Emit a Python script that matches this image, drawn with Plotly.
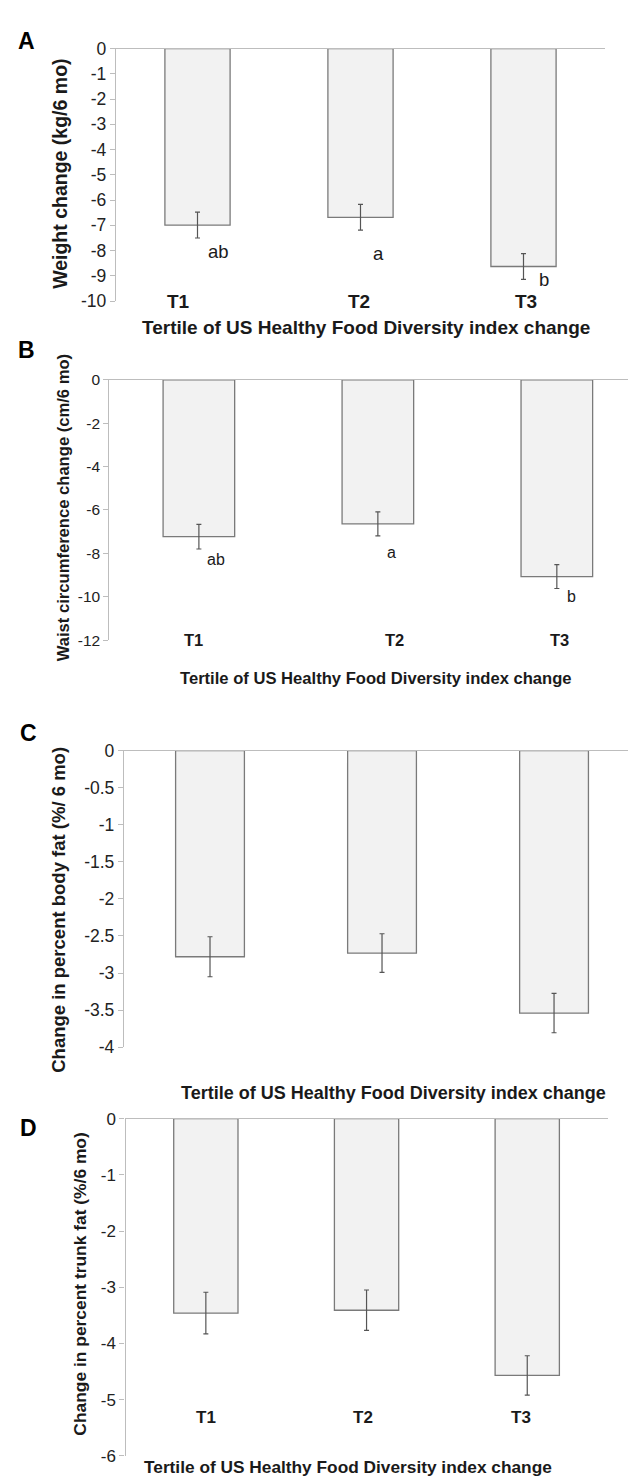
import plotly.graph_objects as go

W, H = 636, 1479
FONT = "Liberation Sans, Arial, sans-serif"

categories = ["T1", "T2", "T3"]
x_title = "Tertile of US Healthy Food Diversity index change"

# Panel A: weight change
weight_vals = [-6.99, -6.68, -8.63]
weight_err = [0.51, 0.51, 0.51]
weight_letters = ["ab", "a", "b"]
weight_letter_y = [-8.05, -8.12, -9.14]
weight_ticks = [0, -1, -2, -3, -4, -5, -6, -7, -8, -9, -10]
weight_ticktext = ["0", "-1", "-2", "-3", "-4", "-5", "-6", "-7", "-8", "-9", "-10"]

# Panel B: waist circumference change
waist_vals = [-7.23, -6.64, -9.07]
waist_err = [0.57, 0.55, 0.55]
waist_letters = ["ab", "a", "b"]
waist_letter_y = [-8.29, -7.97, -10.0]
waist_ticks = [0, -2, -4, -6, -8, -10, -12]
waist_ticktext = ["0", "-2", "-4", "-6", "-8", "-10", "-12"]

# Panel C: percent body fat change
bodyfat_vals = [-2.78, -2.73, -3.54]
bodyfat_err = [0.27, 0.26, 0.265]
bodyfat_ticks = [0, -0.5, -1, -1.5, -2, -2.5, -3, -3.5, -4]
bodyfat_ticktext = ["0", "-0.5", "-1", "-1.5", "-2", "-2.5", "-3", "-3.5", "-4"]

# Panel D: percent trunk fat change
trunk_vals = [-3.46, -3.41, -4.57]
trunk_err = [0.37, 0.36, 0.35]
trunk_ticks = [0, -1, -2, -3, -4, -5, -6]
trunk_ticktext = ["0", "-1", "-2", "-3", "-4", "-5", "-6"]

panels = [
    dict(letter="A", vals=weight_vals, err=weight_err, ticks=weight_ticks, ticktext=weight_ticktext,
         ymin=-10, ytitle="Weight change (kg/6 mo)", letters=weight_letters, letter_y=weight_letter_y,
         letter_dx=[21, 18, 20], px_x=(108, 597), px_y=(31, 287), xmax=2.5,
         tick_size=17.5, cat_size=19, cat_y=-10, cat_dx=[-19, -2, 2], let_size=18.5,
         xt=(358, 314, 19), yt=(52, 158, 19.5), lab=(18, 23)),
    dict(letter="B", vals=waist_vals, err=waist_err, ticks=waist_ticks, ticktext=waist_ticktext,
         ymin=-12, ytitle="Waist circumference change (cm/6 mo)", letters=waist_letters, letter_y=waist_letter_y,
         letter_dx=[17, 14, 15], px_x=(101.4, 636), px_y=(366.7, 630.7), xmax=2.487,
         tick_size=15.5, cat_size=16.5, cat_y=-12, cat_dx=[-5, 17, 3], let_size=16,
         xt=(368, 670, 16.6), yt=(55, 497, 16.6), lab=(18, 337)),
    dict(letter="C", vals=bodyfat_vals, err=bodyfat_err, ticks=bodyfat_ticks, ticktext=bodyfat_ticktext,
         ymin=-4, ytitle="Change in percent body fat (%/ 6 mo)", letters=None, letter_y=None,
         letter_dx=None, px_x=(116, 636), px_y=(742.7, 1043.3), xmax=2.523,
         tick_size=17.5, cat_size=17, cat_y=-4.02, cat_dx=[-15, -2, 2], let_size=16,
         xt=(385, 1090, 18), yt=(51, 904, 18.5), lab=(20, 725)),
    dict(letter="D", vals=trunk_vals, err=trunk_err, ticks=trunk_ticks, ticktext=trunk_ticktext,
         ymin=-6, ytitle="Change in percent trunk fat (%/6 mo)", letters=None, letter_y=None,
         letter_dx=None, px_x=(117.5, 599.6), px_y=(1115.7, 1457.5), xmax=2.5,
         tick_size=17, cat_size=17, cat_y=-5.31, cat_dx=[0, -4, -6], let_size=16,
         xt=(340, 1469, 17.3), yt=(72, 1284, 17.4), lab=(20, 1125)),
]

fig = go.Figure()
annotations = []
layout_axes = {}

AXIS_GREY = "#bdbdbd"
TEXT = "#1a1a1a"

for i, p in enumerate(panels):
    n = "" if i == 0 else str(i + 1)
    xa, ya = "x" + n, "y" + n
    fig.add_trace(go.Bar(
        x=categories, y=p["vals"], xaxis=xa, yaxis=ya, width=0.4,
        marker=dict(color="#f2f2f2", line=dict(color="#7a7a7a", width=1.3)),
        error_y=dict(type="data", array=p["err"], visible=True, color="#555555",
                     thickness=1.2, width=2.5),
        showlegend=False, hoverinfo="x+y",
    ))
    x0, x1 = p["px_x"]
    yt_, yb_ = p["px_y"]
    layout_axes["xaxis" + n] = dict(
        domain=[x0 / W, min(x1 / W, 1.0)], anchor=ya, side="top", type="category",
        range=[-0.5, p["xmax"]], showline=True, linecolor=AXIS_GREY, linewidth=1.3,
        showticklabels=False, ticks="", showgrid=False, zeroline=False, fixedrange=True,
    )
    layout_axes["yaxis" + n] = dict(
        domain=[1 - yb_ / H, 1 - yt_ / H], anchor=xa, range=[p["ymin"], 0],
        tickvals=p["ticks"], ticktext=p["ticktext"], ticks="outside", ticklen=5,
        tickcolor=AXIS_GREY, tickwidth=1.2, showline=True, linecolor=AXIS_GREY,
        linewidth=1.3, showgrid=False, zeroline=False, fixedrange=True,
        tickfont=dict(family=FONT, size=p["tick_size"], color="#222222"),
    )
    # category labels
    for c, dx in zip(categories, p["cat_dx"]):
        annotations.append(dict(x=c, y=p["cat_y"], xref=xa, yref=ya, text="<b>%s</b>" % c,
                                showarrow=False, xshift=dx, yanchor="middle",
                                font=dict(family=FONT, size=p["cat_size"], color=TEXT)))
    # significance letters
    if p["letters"]:
        for c, lt, ly, dx in zip(categories, p["letters"], p["letter_y"], p["letter_dx"]):
            annotations.append(dict(x=c, y=ly, xref=xa, yref=ya, text=lt, showarrow=False,
                                    xshift=dx, yanchor="middle",
                                    font=dict(family=FONT, size=p["let_size"], color=TEXT)))
    # x title
    tx, ty, ts = p["xt"]
    annotations.append(dict(x=tx / W, y=1 - ty / H, xref="paper", yref="paper",
                            text="<b>%s</b>" % x_title, showarrow=False,
                            xanchor="center", yanchor="middle",
                            font=dict(family=FONT, size=ts, color=TEXT)))
    # y title
    yx, yy, ys = p["yt"]
    annotations.append(dict(x=yx / W, y=1 - yy / H, xref="paper", yref="paper",
                            text="<b>%s</b>" % p["ytitle"], showarrow=False, textangle=-90,
                            xanchor="center", yanchor="middle",
                            font=dict(family=FONT, size=ys, color=TEXT)))
    # panel letter
    lx, ly = p["lab"]
    annotations.append(dict(x=lx / W, y=1 - ly / H, xref="paper", yref="paper",
                            text="<b>%s</b>" % p["letter"], showarrow=False,
                            xanchor="center", yanchor="middle",
                            font=dict(family=FONT, size=23, color="#000000")))

fig.update_layout(
    width=W, height=H, autosize=False,
    margin=dict(l=0, r=0, t=0, b=0),
    paper_bgcolor="white", plot_bgcolor="white",
    showlegend=False, bargap=0.6,
    annotations=annotations,
    font=dict(family=FONT, color=TEXT),
    **layout_axes,
)

fig.write_html("out.html")
